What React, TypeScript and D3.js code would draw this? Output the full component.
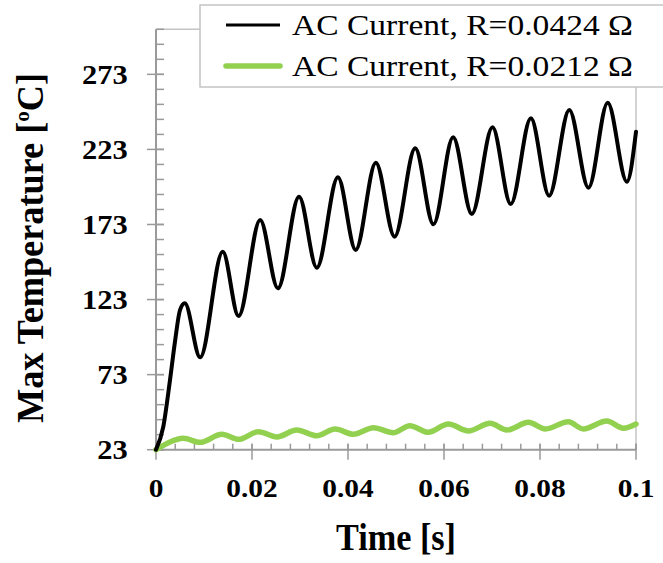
import React from "react";
import * as d3 from "d3";

// ---------- data ----------
const acHighTime = [0, 0.0015, 0.0029, 0.004, 0.005, 0.006, 0.0092, 0.0139, 0.0172, 0.0217, 0.0254, 0.0298, 0.0335, 0.0379, 0.0416, 0.0458, 0.0497, 0.054, 0.0578, 0.0619, 0.0658, 0.0701, 0.0739, 0.0781, 0.0819, 0.0861, 0.0901, 0.0941, 0.0981, 0.1];
const acHighTemp = [23, 38, 69, 96, 116, 120.5, 84.5, 154.9, 112, 176, 130.5, 191.5, 144.2, 204.4, 156, 214.2, 164.9, 223.7, 173.1, 231.1, 180, 237.7, 186.6, 243.7, 192.2, 249.3, 197.5, 254.1, 201.5, 234.8];

const acLowTime = [0, 0.0028, 0.0057, 0.0092, 0.0137, 0.0172, 0.0213, 0.0252, 0.0293, 0.0335, 0.0373, 0.0411, 0.0453, 0.0494, 0.0529, 0.0567, 0.0609, 0.0651, 0.0696, 0.0731, 0.0776, 0.0811, 0.0859, 0.089, 0.0939, 0.0974, 0.1];
const acLowTemp = [23, 28, 30.6, 27.9, 33.3, 29.9, 35.0, 31.5, 36.1, 32.3, 36.8, 33.3, 37.7, 34.3, 39.0, 34.6, 40.1, 35.5, 40.6, 36.1, 41.2, 36.8, 41.6, 36.8, 42.1, 37.3, 40.1];

const seriesNames = ["AC Current, R=0.0424 \u03A9", "AC Current, R=0.0212 \u03A9"];
const seriesColors = ["#000000", "#92D050"];

const xTickValues = [0, 0.02, 0.04, 0.06, 0.08, 0.1];
const xTickLabels = ["0", "0.02", "0.04", "0.06", "0.08", "0.1"];
const yTickValues = [23, 73, 123, 173, 223, 273];
const yTickLabels = ["23", "73", "123", "173", "223", "273"];

const xTitle = "Time [s]";
const yTitleMain = "Max Temperature [";
const yTitleSup = "o";
const yTitleEnd = "C]";

// ---------- layout ----------
const W = 663;
const H = 563;
const left = 156;
const right = 636;
const top = 29.3;
const bottom = 449.7;
const FONT = "'Liberation Serif', 'Times New Roman', Times, serif";
const AXIS = "#9a9a9a";
const BORDER = "#c4c4c4";

export default function App() {
  const x = d3.scaleLinear().domain([0, 0.1]).range([left, right]);
  const y = d3.scaleLinear().domain([23, 303]).range([bottom, top]);

  const line = d3
    .line<[number, number]>()
    .x((d) => x(d[0]))
    .y((d) => y(d[1]))
    .curve(d3.curveMonotoneX);

  const high: [number, number][] = acHighTime.map((t, i) => [t, acHighTemp[i]]);
  const low: [number, number][] = acLowTime.map((t, i) => [t, acLowTemp[i]]);

  const xMinor = d3.range(0, 0.1001, 0.004);
  const yMinor = d3.range(23, 304, 10);

  return (
    <svg width={W} height={H} style={{ position: "absolute", left: 0, top: 0, background: "#fff" }} fontFamily={FONT}>
      <rect x={0} y={0} width={W} height={H} fill="#fff" />
      {/* plot frame borders */}
      <line x1={left} x2={right} y1={top} y2={top} stroke={BORDER} strokeWidth={1.5} />
      <line x1={right} x2={right} y1={top} y2={bottom} stroke={BORDER} strokeWidth={1.5} />

      {/* y axis */}
      <line x1={left} x2={left} y1={top} y2={bottom} stroke={AXIS} strokeWidth={2} />
      {yMinor.map((v) => (
        <line key={"ym" + v} x1={left} x2={left + 8} y1={y(v)} y2={y(v)} stroke={AXIS} strokeWidth={1.5} />
      ))}
      {yTickValues.map((v, i) => (
        <g key={"yt" + v}>
          <line x1={left - 9} x2={left + 8} y1={y(v)} y2={y(v)} stroke={AXIS} strokeWidth={1.5} />
          <text
            transform={`translate(127.7, ${y(v) + 9.5}) scale(1.13,1)`}
            textAnchor="end"
            fontSize={27}
            fontWeight="bold"
            fill="#000"
          >
            {yTickLabels[i]}
          </text>
        </g>
      ))}

      {/* x axis */}
      <line x1={left} x2={right} y1={bottom} y2={bottom} stroke={AXIS} strokeWidth={2} />
      {xMinor.map((v) => (
        <line key={"xm" + v} x1={x(v)} x2={x(v)} y1={bottom - 6} y2={bottom} stroke={AXIS} strokeWidth={1.5} />
      ))}
      {xTickValues.map((v, i) => (
        <g key={"xt" + v}>
          <line x1={x(v)} x2={x(v)} y1={bottom - 6} y2={bottom + 10} stroke={AXIS} strokeWidth={1.5} />
          <text
            transform={`translate(${x(v)}, 497) scale(1.13,1)`}
            textAnchor="middle"
            fontSize={26}
            fontWeight="bold"
            fill="#000"
          >
            {xTickLabels[i]}
          </text>
        </g>
      ))}

      {/* series */}
      <path d={line(low) || ""} fill="none" stroke={seriesColors[1]} strokeWidth={5.5} strokeLinecap="round" strokeLinejoin="round" />
      <path d={line(high) || ""} fill="none" stroke={seriesColors[0]} strokeWidth={4} strokeLinecap="round" strokeLinejoin="round" />

      {/* axis titles */}
      <text x={396} y={550} textAnchor="middle" fontSize={38} fontWeight="bold" textLength={120} lengthAdjust="spacingAndGlyphs" fill="#000">
        {xTitle}
      </text>
      <text
        transform="translate(42.7, 248) rotate(-90)"
        textAnchor="middle"
        fontSize={38}
        fontWeight="bold"
        textLength={350}
        lengthAdjust="spacingAndGlyphs"
        fill="#000"
      >
        {yTitleMain}
        <tspan fontSize={22} dy={-14}>{yTitleSup}</tspan>
        <tspan dy={14}>{yTitleEnd}</tspan>
      </text>

      {/* legend */}
      <rect x={200} y={5} width={480} height={82} fill="#fff" stroke={BORDER} strokeWidth={1.5} />
      <line x1={226} x2={280} y1={25} y2={25} stroke={seriesColors[0]} strokeWidth={3} />
      <text x={292} y={35} fontSize={29} textLength={341} lengthAdjust="spacingAndGlyphs" fill="#000">
        {seriesNames[0]}
      </text>
      <line x1={226} x2={280} y1={66} y2={66} stroke={seriesColors[1]} strokeWidth={5.5} strokeLinecap="round" />
      <text x={292} y={76} fontSize={29} textLength={341} lengthAdjust="spacingAndGlyphs" fill="#000">
        {seriesNames[1]}
      </text>
    </svg>
  );
}
